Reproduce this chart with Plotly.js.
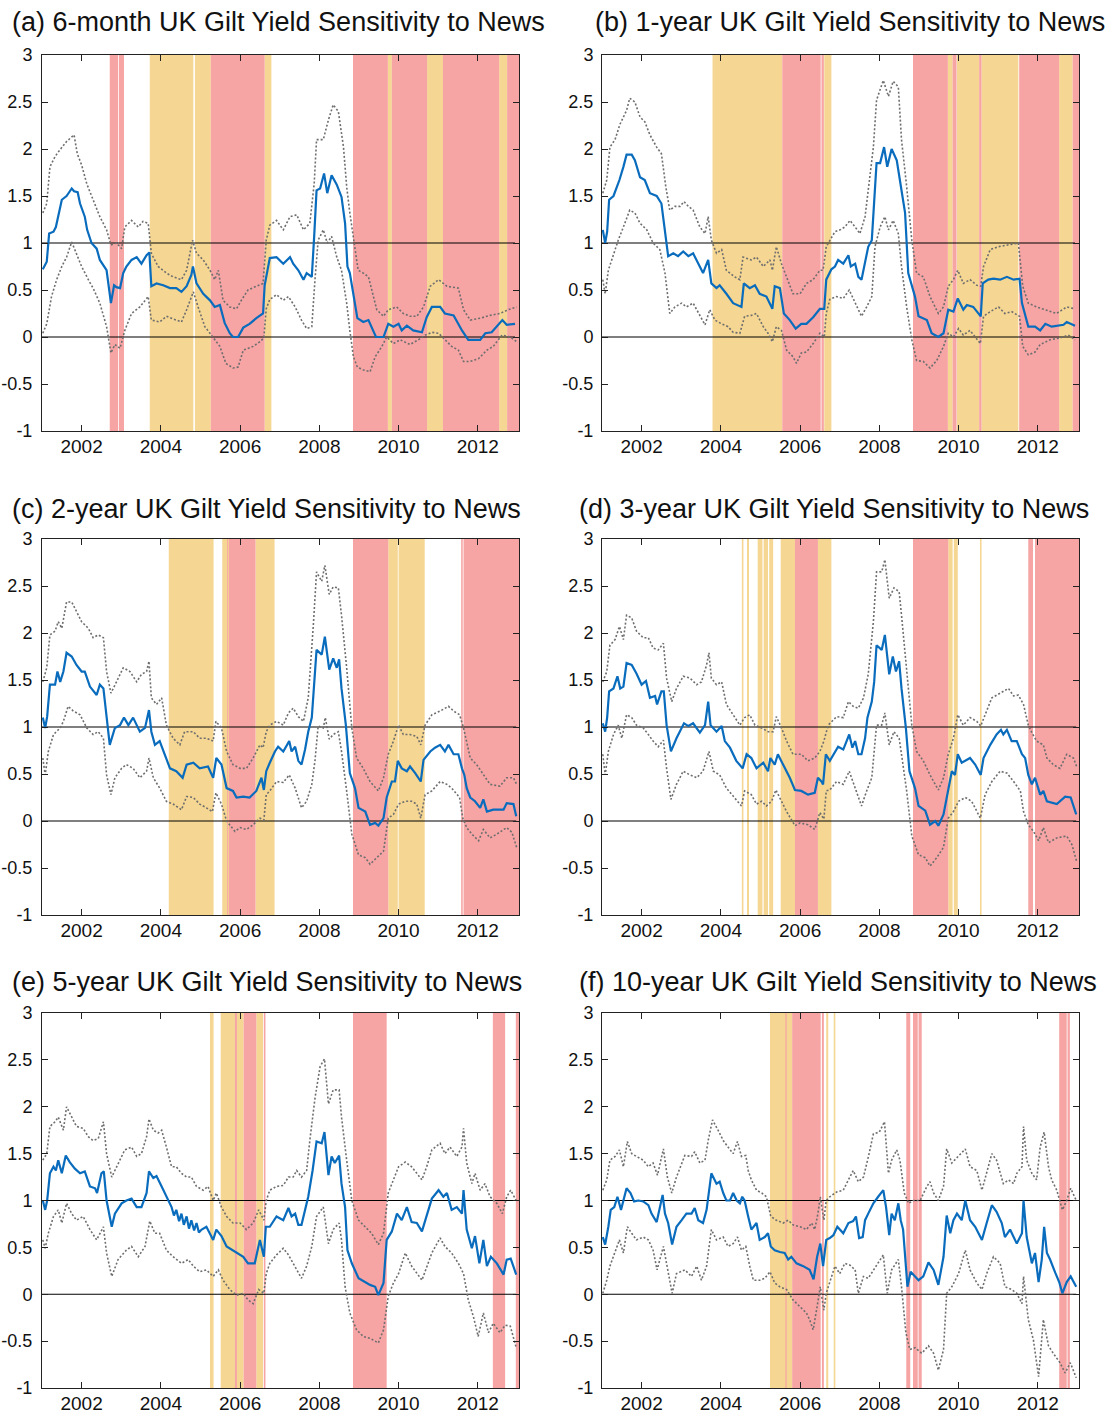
<!DOCTYPE html>
<html><head><meta charset="utf-8">
<script src="https://cdn.plot.ly/plotly-3.0.1.min.js"></script>
<style>html,body{margin:0;padding:0;background:#fff}#chart{width:1110px;height:1415px}</style>
</head><body><div id="chart"></div>
<script>
// ---------------- DATA (years, sensitivity) ----------------
const titles = [
  '(a) 6-month UK Gilt Yield Sensitivity to News',
  '(b) 1-year UK Gilt Yield Sensitivity to News',
  '(c) 2-year UK Gilt Yield Sensitivity to News',
  '(d) 3-year UK Gilt Yield Sensitivity to News',
  '(e) 5-year UK Gilt Yield Sensitivity to News',
  '(f) 10-year UK Gilt Yield Sensitivity to News'
];
const xTickVals = [2002, 2004, 2006, 2008, 2010, 2012];
const xTickText = ['2002', '2004', '2006', '2008', '2010', '2012'];
const yTickVals = [-1, -0.5, 0, 0.5, 1, 1.5, 2, 2.5, 3];
const yTickText = ['-1', '-0.5', '0', '0.5', '1', '1.5', '2', '2.5', '3'];
const refLevels = [0, 1];

// (a) 6-month
const aBlueT = [2001.02,2001.12,2001.18,2001.29,2001.35,2001.44,2001.5,2001.62,2001.75,2001.81,2001.9,2001.96,2002.08,2002.14,2002.25,2002.38,2002.46,2002.63,2002.74,2002.82,2002.88,2002.97,2003.05,2003.13,2003.26,2003.39,2003.51,2003.64,2003.71,2003.76,2003.89,2004.06,2004.23,2004.39,2004.52,2004.65,2004.77,2004.81,2004.9,2005.07,2005.24,2005.36,2005.49,2005.61,2005.74,2005.82,2005.95,2006.08,2006.24,2006.41,2006.58,2006.62,2006.75,2006.92,2007.09,2007.26,2007.34,2007.47,2007.6,2007.68,2007.81,2007.87,2007.93,2008.02,2008.12,2008.2,2008.31,2008.44,2008.56,2008.65,2008.71,2008.77,2008.86,2008.96,2009.11,2009.24,2009.43,2009.62,2009.74,2009.87,2010.0,2010.08,2010.21,2010.37,2010.59,2010.71,2010.84,2011.05,2011.17,2011.39,2011.6,2011.76,2012.06,2012.19,2012.35,2012.48,2012.62,2012.73,2012.94];
const aBlueV = [0.72,0.8,1.1,1.12,1.17,1.35,1.46,1.5,1.58,1.55,1.54,1.42,1.28,1.14,1.0,0.94,0.82,0.71,0.36,0.55,0.53,0.52,0.68,0.75,0.82,0.85,0.78,0.87,0.9,0.54,0.57,0.55,0.52,0.52,0.48,0.54,0.66,0.75,0.57,0.46,0.39,0.32,0.34,0.15,0.04,0.0,0.0,0.1,0.14,0.2,0.25,0.55,0.84,0.85,0.78,0.85,0.78,0.71,0.61,0.68,0.64,1.07,1.56,1.58,1.74,1.53,1.72,1.62,1.49,1.21,0.75,0.68,0.43,0.2,0.16,0.18,0.0,0.0,0.14,0.11,0.14,0.07,0.12,0.07,0.05,0.21,0.32,0.32,0.25,0.23,0.07,-0.03,-0.03,0.04,0.05,0.11,0.18,0.13,0.14];
const aUpT = [2001.02,2001.12,2001.2,2001.33,2001.45,2001.62,2001.81,2001.89,2002.0,2002.13,2002.29,2002.46,2002.63,2002.74,2002.88,2003.01,2003.09,2003.26,2003.43,2003.55,2003.68,2003.76,2003.93,2004.14,2004.31,2004.52,2004.65,2004.8,2004.9,2005.07,2005.24,2005.36,2005.45,2005.57,2005.74,2005.91,2006.03,2006.2,2006.41,2006.58,2006.66,2006.75,2006.92,2007.09,2007.26,2007.43,2007.6,2007.76,2007.87,2007.93,2008.1,2008.23,2008.35,2008.48,2008.61,2008.69,2008.77,2008.9,2008.98,2009.11,2009.24,2009.45,2009.62,2009.74,2009.95,2010.12,2010.29,2010.46,2010.63,2010.8,2011.01,2011.22,2011.51,2011.64,2011.81,2012.06,2012.31,2012.56,2012.77,2012.98];
const aUpV = [1.32,1.42,1.81,1.92,1.99,2.08,2.15,1.95,1.83,1.63,1.46,1.28,1.14,0.98,1.0,0.94,1.17,1.24,1.17,1.23,1.21,0.89,0.75,0.68,0.64,0.61,0.71,1.03,0.89,0.82,0.71,0.61,0.71,0.39,0.32,0.3,0.39,0.5,0.54,0.57,1.03,1.19,1.24,1.14,1.28,1.3,1.14,1.21,1.63,2.1,2.1,2.31,2.47,2.4,2.02,1.6,1.32,0.96,0.71,0.68,0.64,0.29,0.22,0.29,0.32,0.25,0.22,0.22,0.32,0.54,0.61,0.54,0.52,0.29,0.18,0.2,0.23,0.25,0.29,0.32];
const aLoT = [2001.02,2001.12,2001.24,2001.37,2001.5,2001.62,2001.75,2001.87,2002.0,2002.17,2002.29,2002.46,2002.63,2002.74,2002.84,2002.97,2003.09,2003.26,2003.47,2003.68,2003.76,2003.97,2004.14,2004.39,2004.52,2004.65,2004.82,2004.94,2005.11,2005.24,2005.36,2005.49,2005.64,2005.82,2005.95,2006.08,2006.33,2006.5,2006.6,2006.66,2006.75,2006.92,2007.09,2007.22,2007.39,2007.55,2007.68,2007.81,2007.89,2007.97,2008.1,2008.2,2008.31,2008.44,2008.56,2008.69,2008.77,2008.86,2008.96,2009.11,2009.28,2009.41,2009.58,2009.7,2009.87,2010.04,2010.29,2010.5,2010.67,2010.84,2011.01,2011.17,2011.34,2011.51,2011.64,2011.81,2012.02,2012.23,2012.39,2012.61,2012.82,2012.98];
const aLoV = [0.04,0.14,0.43,0.61,0.75,0.85,1.01,0.89,0.75,0.61,0.52,0.36,0.11,-0.17,-0.08,-0.12,0.07,0.25,0.32,0.43,0.18,0.16,0.22,0.18,0.16,0.29,0.48,0.32,0.11,0.04,-0.03,-0.1,-0.28,-0.33,-0.32,-0.14,-0.1,-0.05,-0.01,0.3,0.4,0.45,0.39,0.43,0.32,0.18,0.09,0.11,0.61,1.03,1.14,1.0,1.07,0.85,0.71,0.36,0.07,-0.21,-0.32,-0.35,-0.37,-0.21,-0.1,0.0,-0.07,-0.03,-0.08,-0.03,0.02,0.05,0.04,-0.03,-0.1,-0.14,-0.26,-0.26,-0.23,-0.14,-0.1,0.02,0.0,-0.05];
const aRed = [[2002.71,2002.92],[2002.94,2003.07],[2005.26,2006.62],[2008.85,2009.73],[2009.83,2010.72],[2011.12,2012.54],[2012.74,2013.04]];
const aYellow = [[2003.72,2004.82],[2004.86,2005.26],[2006.62,2006.79],[2009.73,2009.83],[2010.72,2011.12],[2012.54,2012.74]];

// (b) 1-year
const bBlueT = [2001.02,2001.08,2001.13,2001.18,2001.29,2001.37,2001.44,2001.54,2001.62,2001.75,2001.83,2001.96,2002.08,2002.21,2002.38,2002.5,2002.61,2002.67,2002.8,2002.92,2003.05,2003.18,2003.3,2003.43,2003.55,2003.68,2003.76,2003.89,2003.97,2004.14,2004.31,2004.52,2004.58,2004.73,2004.86,2004.98,2005.15,2005.3,2005.36,2005.49,2005.59,2005.74,2005.89,2006.03,2006.16,2006.33,2006.5,2006.61,2006.66,2006.79,2006.88,2006.96,2007.09,2007.22,2007.28,2007.39,2007.47,2007.55,2007.64,2007.72,2007.81,2007.87,2007.93,2008.02,2008.12,2008.2,2008.31,2008.44,2008.54,2008.65,2008.73,2008.82,2008.9,2008.99,2009.2,2009.32,2009.49,2009.62,2009.74,2009.87,2009.98,2010.12,2010.21,2010.37,2010.56,2010.61,2010.75,2010.88,2011.05,2011.22,2011.39,2011.54,2011.6,2011.76,2011.93,2012.06,2012.19,2012.35,2012.65,2012.73,2012.94];
const bBlueV = [1.14,1.0,1.12,1.46,1.5,1.58,1.67,1.81,1.94,1.94,1.88,1.7,1.67,1.53,1.5,1.42,1.07,0.86,0.89,0.86,0.91,0.86,0.89,0.78,0.68,0.82,0.57,0.52,0.55,0.46,0.36,0.32,0.57,0.52,0.55,0.46,0.43,0.3,0.54,0.52,0.25,0.18,0.09,0.14,0.14,0.21,0.3,0.3,0.61,0.72,0.75,0.82,0.78,0.87,0.75,0.78,0.64,0.61,0.8,0.96,1.03,1.4,1.85,1.85,2.02,1.81,2.0,1.88,1.6,1.32,0.68,0.54,0.43,0.22,0.18,0.04,0.0,0.04,0.29,0.27,0.41,0.29,0.34,0.32,0.22,0.57,0.61,0.62,0.61,0.64,0.61,0.62,0.36,0.11,0.11,0.07,0.14,0.11,0.13,0.16,0.12];
const bUpT = [2001.02,2001.12,2001.2,2001.33,2001.45,2001.62,2001.7,2001.83,2001.96,2002.08,2002.21,2002.38,2002.5,2002.61,2002.71,2002.84,2002.97,2003.07,2003.18,2003.3,2003.47,2003.6,2003.68,2003.76,2003.89,2004.02,2004.14,2004.35,2004.48,2004.56,2004.77,2004.9,2005.07,2005.24,2005.3,2005.4,2005.53,2005.66,2005.82,2006.0,2006.16,2006.33,2006.5,2006.58,2006.66,2006.88,2007.01,2007.13,2007.26,2007.39,2007.51,2007.64,2007.76,2007.85,2007.93,2008.1,2008.23,2008.35,2008.48,2008.56,2008.69,2008.82,2008.94,2009.11,2009.28,2009.49,2009.62,2009.74,2009.87,2009.98,2010.12,2010.29,2010.46,2010.56,2010.63,2010.8,2011.0,2011.26,2011.51,2011.62,2011.76,2011.97,2012.18,2012.47,2012.73,2012.94];
const bUpV = [1.53,1.67,2.02,2.1,2.26,2.41,2.54,2.5,2.34,2.29,2.15,2.02,1.95,1.6,1.35,1.39,1.39,1.44,1.39,1.35,1.17,1.1,1.28,1.03,0.89,0.93,0.71,0.64,0.61,0.85,0.82,0.85,0.75,0.82,0.71,0.96,0.78,0.64,0.46,0.46,0.57,0.61,0.71,0.71,0.96,1.12,1.14,1.17,1.24,1.17,1.1,1.28,1.67,2.02,2.52,2.73,2.56,2.72,2.66,2.1,1.6,1.03,0.68,0.64,0.43,0.25,0.32,0.54,0.61,0.71,0.57,0.61,0.55,0.54,0.75,0.93,0.96,0.98,1.0,0.54,0.36,0.32,0.29,0.25,0.32,0.3];
const bLoT = [2001.02,2001.08,2001.16,2001.29,2001.41,2001.54,2001.7,2001.83,2001.96,2002.13,2002.29,2002.46,2002.59,2002.71,2002.84,2003.01,2003.13,2003.3,2003.47,2003.6,2003.72,2003.85,2004.02,2004.18,2004.31,2004.48,2004.6,2004.77,2004.9,2005.07,2005.19,2005.3,2005.4,2005.53,2005.66,2005.82,2005.91,2006.03,2006.16,2006.33,2006.5,2006.61,2006.66,2006.75,2006.92,2007.09,2007.24,2007.39,2007.55,2007.68,2007.81,2007.89,2008.02,2008.14,2008.23,2008.35,2008.48,2008.56,2008.69,2008.82,2008.94,2009.11,2009.28,2009.45,2009.62,2009.74,2009.87,2010.0,2010.12,2010.29,2010.55,2010.63,2010.8,2011.01,2011.17,2011.34,2011.54,2011.62,2011.76,2011.93,2012.06,2012.31,2012.56,2012.77,2012.94];
const bLoV = [0.61,0.46,0.71,0.89,1.03,1.17,1.35,1.32,1.21,1.14,1.0,0.93,0.68,0.25,0.32,0.36,0.32,0.36,0.22,0.13,0.29,0.18,0.14,0.11,0.05,0.04,0.22,0.23,0.25,0.11,0.04,-0.05,0.11,0.07,-0.14,-0.21,-0.28,-0.17,-0.16,-0.07,0.04,0.0,0.25,0.4,0.43,0.41,0.5,0.36,0.22,0.32,0.43,0.96,1.17,1.28,1.14,1.24,1.1,0.75,0.32,-0.03,-0.25,-0.26,-0.33,-0.25,-0.1,0.04,0.0,0.09,0.02,0.07,-0.07,0.22,0.27,0.32,0.25,0.27,0.22,-0.1,-0.19,-0.16,-0.08,-0.03,-0.01,0.02,-0.03];
const bRed = [[2005.55,2006.52],[2006.54,2006.6],[2008.85,2009.73],[2009.85,2009.95],[2010.52,2010.58],[2011.53,2012.54],[2012.88,2013.04]];
const bYellow = [[2003.79,2005.55],[2006.61,2006.79],[2009.73,2009.85],[2009.96,2010.52],[2010.58,2011.51],[2012.54,2012.88]];

// (c) 2-year
const cBlueT = [2001.02,2001.08,2001.13,2001.2,2001.33,2001.39,2001.46,2001.54,2001.62,2001.75,2001.87,2002.0,2002.08,2002.21,2002.38,2002.46,2002.55,2002.63,2002.71,2002.84,2002.97,2003.07,2003.18,2003.3,2003.47,2003.6,2003.7,2003.76,2003.85,2003.97,2004.1,2004.23,2004.39,2004.55,2004.65,2004.82,2004.98,2005.19,2005.32,2005.4,2005.53,2005.66,2005.82,2005.91,2006.08,2006.24,2006.41,2006.54,2006.6,2006.66,2006.75,2006.88,2006.96,2007.09,2007.24,2007.3,2007.39,2007.47,2007.55,2007.64,2007.72,2007.81,2007.93,2008.06,2008.14,2008.25,2008.35,2008.44,2008.5,2008.56,2008.67,2008.77,2008.9,2008.99,2009.16,2009.28,2009.41,2009.49,2009.62,2009.7,2009.83,2009.91,2009.98,2010.08,2010.21,2010.29,2010.42,2010.56,2010.63,2010.8,2010.92,2011.05,2011.17,2011.26,2011.39,2011.51,2011.6,2011.66,2011.72,2011.81,2011.93,2012.06,2012.14,2012.23,2012.39,2012.65,2012.73,2012.9,2012.97];
const cBlueV = [1.1,0.99,1.11,1.45,1.45,1.59,1.48,1.59,1.79,1.75,1.66,1.59,1.59,1.43,1.34,1.45,1.41,1.1,0.81,0.99,1.02,1.1,1.02,1.1,0.95,0.99,1.18,0.95,0.81,0.85,0.71,0.56,0.53,0.46,0.6,0.62,0.56,0.58,0.46,0.67,0.6,0.35,0.32,0.25,0.26,0.25,0.32,0.46,0.33,0.53,0.62,0.74,0.79,0.74,0.85,0.74,0.79,0.64,0.6,0.76,0.95,1.1,1.82,1.77,1.96,1.61,1.73,1.63,1.72,1.41,1.02,0.51,0.35,0.14,0.1,-0.04,-0.02,-0.05,0.03,0.25,0.42,0.42,0.64,0.56,0.53,0.58,0.51,0.42,0.65,0.74,0.78,0.81,0.74,0.81,0.71,0.71,0.56,0.49,0.35,0.25,0.21,0.14,0.23,0.1,0.12,0.12,0.19,0.18,0.05];
const cUpT = [2001.02,2001.12,2001.2,2001.33,2001.41,2001.5,2001.62,2001.75,2001.87,2002.0,2002.17,2002.29,2002.42,2002.55,2002.63,2002.74,2002.88,2003.05,2003.22,2003.39,2003.51,2003.64,2003.7,2003.76,2003.89,2004.02,2004.14,2004.31,2004.48,2004.6,2004.82,2004.98,2005.15,2005.32,2005.39,2005.53,2005.66,2005.82,2006.0,2006.16,2006.33,2006.5,2006.58,2006.66,2006.75,2006.92,2007.09,2007.22,2007.34,2007.47,2007.6,2007.72,2007.85,2007.93,2008.06,2008.14,2008.25,2008.35,2008.48,2008.56,2008.69,2008.82,2008.94,2009.11,2009.28,2009.49,2009.62,2009.74,2009.87,2010.0,2010.12,2010.29,2010.46,2010.56,2010.67,2010.84,2011.05,2011.26,2011.39,2011.54,2011.64,2011.81,2011.97,2012.14,2012.31,2012.56,2012.73,2012.9,2012.98];
const cUpV = [1.48,1.63,1.98,2.02,2.12,2.05,2.33,2.33,2.23,2.12,2.05,1.95,1.98,1.95,1.59,1.36,1.48,1.63,1.59,1.48,1.56,1.59,1.7,1.31,1.24,1.31,1.02,0.88,0.81,0.95,0.95,0.88,0.88,0.85,1.06,0.99,0.74,0.6,0.56,0.56,0.67,0.81,0.78,0.95,1.02,1.06,1.02,1.15,1.2,1.11,1.06,1.31,2.09,2.65,2.55,2.72,2.41,2.49,2.48,2.19,1.63,0.99,0.67,0.56,0.42,0.32,0.46,0.71,0.85,1.02,0.92,0.92,0.9,0.81,1.02,1.13,1.17,1.22,1.17,1.13,0.99,0.67,0.6,0.49,0.39,0.37,0.46,0.46,0.39];
const cLoT = [2001.02,2001.08,2001.16,2001.29,2001.46,2001.54,2001.66,2001.79,2001.96,2002.13,2002.29,2002.42,2002.55,2002.63,2002.74,2002.84,2003.01,2003.13,2003.3,2003.47,2003.64,2003.7,2003.81,2003.97,2004.14,2004.31,2004.52,2004.65,2004.82,2004.98,2005.15,2005.3,2005.39,2005.53,2005.66,2005.87,2006.0,2006.16,2006.33,2006.5,2006.6,2006.66,2006.75,2006.92,2007.09,2007.24,2007.39,2007.55,2007.68,2007.81,2007.89,2007.97,2008.1,2008.15,2008.25,2008.35,2008.48,2008.56,2008.69,2008.82,2008.99,2009.16,2009.28,2009.45,2009.62,2009.74,2009.87,2010.0,2010.17,2010.33,2010.46,2010.56,2010.67,2010.84,2011.05,2011.22,2011.34,2011.54,2011.62,2011.72,2011.85,2012.02,2012.14,2012.31,2012.48,2012.73,2012.86,2012.98];
const cLoV = [0.67,0.49,0.74,0.92,0.99,1.06,1.22,1.17,1.13,0.99,0.92,0.95,0.88,0.49,0.28,0.46,0.56,0.6,0.56,0.46,0.53,0.67,0.46,0.35,0.21,0.18,0.12,0.26,0.25,0.18,0.14,0.1,0.3,0.18,0.0,-0.11,-0.07,-0.09,-0.04,0.03,0.01,0.28,0.32,0.42,0.41,0.49,0.35,0.14,0.21,0.39,0.64,1.01,0.99,1.1,0.87,0.92,0.95,0.74,0.32,-0.14,-0.36,-0.39,-0.46,-0.39,-0.32,0.03,0.07,0.18,0.21,0.21,0.18,0.03,0.28,0.32,0.42,0.39,0.35,0.25,0.03,-0.07,-0.14,-0.21,-0.09,-0.18,-0.14,-0.07,-0.12,-0.28];
const cRed = [[2005.72,2006.39],[2008.85,2009.74],[2011.58,2011.62],[2011.64,2013.04],[2005.675,2005.70]];
const cYellow = [[2004.2,2005.33],[2005.55,2005.72],[2006.39,2006.87],[2009.74,2009.98],[2010.0,2010.66]];

// (d) 3-year
const dBlueT = [2001.02,2001.08,2001.13,2001.18,2001.29,2001.39,2001.46,2001.54,2001.62,2001.75,2001.87,2002.0,2002.11,2002.21,2002.34,2002.39,2002.5,2002.56,2002.63,2002.74,2002.88,2003.07,2003.18,2003.3,2003.47,2003.6,2003.68,2003.74,2003.89,2004.02,2004.1,2004.23,2004.39,2004.55,2004.65,2004.77,2004.9,2005.07,2005.19,2005.25,2005.36,2005.44,2005.57,2005.66,2005.74,2005.87,2006.03,2006.2,2006.37,2006.45,2006.54,2006.58,2006.65,2006.75,2006.88,2006.96,2007.09,2007.24,2007.32,2007.39,2007.47,2007.55,2007.64,2007.7,2007.81,2007.87,2007.93,2008.06,2008.14,2008.25,2008.34,2008.42,2008.5,2008.56,2008.67,2008.76,2008.9,2008.99,2009.16,2009.28,2009.41,2009.49,2009.62,2009.7,2009.83,2009.91,2009.98,2010.08,2010.21,2010.29,2010.42,2010.56,2010.63,2010.8,2010.96,2011.07,2011.13,2011.22,2011.34,2011.47,2011.6,2011.68,2011.76,2011.85,2011.93,2012.06,2012.14,2012.23,2012.48,2012.69,2012.83,2012.97];
const dBlueV = [1.04,0.95,1.1,1.38,1.41,1.54,1.41,1.43,1.68,1.66,1.57,1.45,1.49,1.31,1.33,1.24,1.38,1.38,1.02,0.74,0.88,1.04,1.01,1.04,0.94,1.02,1.27,1.02,0.95,1.01,0.85,0.78,0.64,0.56,0.71,0.67,0.56,0.62,0.53,0.67,0.6,0.71,0.6,0.53,0.46,0.33,0.32,0.28,0.3,0.46,0.42,0.39,0.71,0.64,0.74,0.79,0.76,0.92,0.78,0.85,0.71,0.71,0.88,1.1,1.27,1.48,1.87,1.82,1.98,1.56,1.75,1.59,1.7,1.41,0.99,0.53,0.35,0.16,0.11,-0.04,0.0,-0.05,0.07,0.25,0.53,0.49,0.71,0.62,0.65,0.67,0.6,0.49,0.67,0.81,0.92,0.97,0.92,0.97,0.85,0.85,0.71,0.67,0.49,0.39,0.46,0.28,0.32,0.21,0.18,0.26,0.25,0.07];
const dUpT = [2001.02,2001.12,2001.2,2001.33,2001.44,2001.54,2001.62,2001.75,2001.87,2002.04,2002.17,2002.29,2002.42,2002.55,2002.63,2002.76,2002.88,2003.05,2003.22,2003.39,2003.51,2003.64,2003.7,2003.76,2003.89,2004.02,2004.14,2004.31,2004.48,2004.6,2004.73,2004.86,2005.03,2005.19,2005.32,2005.4,2005.53,2005.66,2005.82,2006.03,2006.2,2006.37,2006.5,2006.6,2006.71,2006.92,2007.09,2007.22,2007.34,2007.47,2007.6,2007.72,2007.85,2007.93,2008.06,2008.14,2008.25,2008.37,2008.5,2008.56,2008.69,2008.82,2008.94,2009.11,2009.28,2009.49,2009.62,2009.74,2009.87,2009.98,2010.12,2010.29,2010.46,2010.56,2010.67,2010.84,2011.05,2011.26,2011.39,2011.51,2011.64,2011.76,2011.85,2011.97,2012.14,2012.23,2012.39,2012.56,2012.73,2012.9,2012.98];
const dUpV = [1.48,1.59,1.87,1.93,2.07,1.93,2.19,2.16,2.02,1.95,1.95,1.84,1.82,1.89,1.52,1.27,1.41,1.54,1.52,1.45,1.48,1.66,1.79,1.52,1.45,1.48,1.24,1.13,1.02,1.1,1.13,1.02,0.99,0.95,0.95,1.11,0.99,0.85,0.71,0.71,0.64,0.67,0.74,0.85,1.02,1.11,1.1,1.27,1.22,1.2,1.31,1.56,2.12,2.65,2.65,2.78,2.37,2.48,2.44,2.19,1.59,1.02,0.74,0.64,0.49,0.33,0.46,0.71,0.88,1.13,1.02,1.1,1.06,1.01,1.13,1.31,1.36,1.41,1.33,1.34,1.24,1.02,0.94,0.85,0.81,0.67,0.6,0.56,0.71,0.67,0.58];
const dLoT = [2001.02,2001.08,2001.16,2001.29,2001.41,2001.5,2001.62,2001.75,2001.87,2002.04,2002.17,2002.29,2002.42,2002.55,2002.63,2002.74,2002.88,2003.05,2003.22,2003.39,2003.55,2003.7,2003.81,2003.97,2004.14,2004.31,2004.52,2004.6,2004.77,2004.9,2005.03,2005.15,2005.28,2005.39,2005.53,2005.66,2005.87,2006.0,2006.2,2006.37,2006.5,2006.6,2006.66,2006.75,2006.92,2007.09,2007.24,2007.39,2007.55,2007.68,2007.81,2007.93,2008.06,2008.14,2008.25,2008.37,2008.5,2008.56,2008.69,2008.82,2008.99,2009.16,2009.28,2009.45,2009.62,2009.74,2009.87,2010.0,2010.17,2010.33,2010.55,2010.67,2010.84,2011.05,2011.22,2011.39,2011.56,2011.64,2011.76,2011.89,2012.02,2012.14,2012.27,2012.48,2012.73,2012.86,2012.98];
const dLoV = [0.71,0.49,0.74,0.92,1.02,0.88,1.13,1.1,1.02,0.99,0.92,0.85,0.79,0.86,0.56,0.23,0.39,0.53,0.49,0.46,0.53,0.74,0.53,0.49,0.35,0.26,0.16,0.32,0.28,0.18,0.21,0.16,0.21,0.33,0.21,0.1,-0.05,-0.02,-0.04,-0.09,0.09,0.02,0.32,0.33,0.42,0.39,0.53,0.35,0.16,0.32,0.46,1.02,1.02,1.15,0.81,0.95,0.88,0.71,0.32,-0.16,-0.36,-0.39,-0.48,-0.39,-0.28,0.03,0.1,0.21,0.25,0.21,0.03,0.28,0.42,0.53,0.51,0.42,0.32,0.1,-0.04,-0.11,-0.21,-0.07,-0.23,-0.18,-0.16,-0.25,-0.43];
const dRed = [[2005.87,2006.45],[2008.85,2009.74],[2011.76,2011.88],[2011.93,2013.04]];
const dYellow = [[2004.53,2004.57],[2004.66,2004.71],[2004.93,2005.05],[2005.08,2005.19],[2005.22,2005.32],[2005.51,2005.87],[2006.45,2006.79],[2009.74,2009.85],[2009.88,2009.98],[2010.54,2010.58]];

// (e) 5-year
const eBlueT = [2001.02,2001.08,2001.13,2001.2,2001.29,2001.35,2001.41,2001.5,2001.6,2001.7,2001.83,2001.96,2002.08,2002.21,2002.34,2002.39,2002.5,2002.56,2002.63,2002.76,2002.84,2003.01,2003.13,2003.26,2003.39,2003.51,2003.64,2003.7,2003.81,2003.89,2004.02,2004.14,2004.27,2004.33,2004.39,2004.46,2004.52,2004.58,2004.65,2004.71,2004.77,2004.84,2004.9,2004.96,2005.03,2005.15,2005.24,2005.32,2005.4,2005.53,2005.66,2005.82,2005.91,2006.08,2006.2,2006.37,2006.5,2006.6,2006.65,2006.75,2006.92,2007.09,2007.22,2007.3,2007.39,2007.47,2007.55,2007.64,2007.72,2007.83,2007.93,2008.06,2008.13,2008.23,2008.31,2008.39,2008.5,2008.56,2008.65,2008.71,2008.82,2008.99,2009.16,2009.28,2009.41,2009.49,2009.62,2009.7,2009.83,2009.96,2010.08,2010.21,2010.33,2010.46,2010.59,2010.71,2010.84,2011.01,2011.13,2011.22,2011.34,2011.47,2011.6,2011.64,2011.72,2011.85,2011.93,2012.04,2012.14,2012.23,2012.33,2012.48,2012.65,2012.73,2012.83,2012.97];
const eBlueV = [1.0,0.9,1.0,1.29,1.36,1.32,1.43,1.29,1.48,1.41,1.34,1.29,1.31,1.15,1.13,1.08,1.29,1.31,1.0,0.72,0.86,0.97,1.0,1.02,0.93,0.93,1.08,1.31,1.24,1.26,1.15,1.04,0.93,0.84,0.9,0.78,0.86,0.74,0.83,0.7,0.79,0.68,0.76,0.66,0.69,0.72,0.65,0.58,0.69,0.62,0.51,0.47,0.44,0.4,0.33,0.33,0.58,0.4,0.72,0.72,0.83,0.79,0.92,0.83,0.86,0.74,0.74,0.9,1.04,1.32,1.63,1.61,1.73,1.27,1.47,1.4,1.48,1.18,0.93,0.47,0.33,0.17,0.13,0.1,0.08,-0.01,0.12,0.58,0.67,0.86,0.79,0.93,0.77,0.76,0.67,0.83,1.02,1.11,1.04,1.08,0.9,0.93,0.86,1.11,0.69,0.49,0.62,0.33,0.58,0.3,0.4,0.33,0.21,0.37,0.38,0.21];
const eUpT = [2001.02,2001.12,2001.2,2001.33,2001.41,2001.54,2001.62,2001.75,2001.87,2002.04,2002.17,2002.29,2002.42,2002.55,2002.63,2002.76,2002.92,2003.09,2003.26,2003.39,2003.51,2003.64,2003.7,2003.81,2003.93,2004.02,2004.14,2004.27,2004.39,2004.52,2004.65,2004.77,2004.9,2005.07,2005.19,2005.32,2005.4,2005.53,2005.66,2005.82,2006.0,2006.16,2006.33,2006.47,2006.6,2006.66,2006.75,2006.92,2007.09,2007.22,2007.34,2007.43,2007.55,2007.68,2007.76,2007.89,2008.02,2008.13,2008.23,2008.35,2008.5,2008.56,2008.69,2008.82,2008.99,2009.16,2009.32,2009.49,2009.62,2009.74,2009.87,2010.0,2010.17,2010.33,2010.46,2010.59,2010.71,2010.84,2011.05,2011.17,2011.3,2011.47,2011.6,2011.64,2011.72,2011.85,2011.93,2012.06,2012.18,2012.31,2012.48,2012.62,2012.73,2012.83,2012.97];
const eUpV = [1.43,1.5,1.79,1.84,1.89,1.75,2.0,1.89,1.79,1.77,1.68,1.64,1.66,1.84,1.5,1.25,1.4,1.54,1.57,1.47,1.5,1.68,1.87,1.75,1.72,1.75,1.57,1.36,1.36,1.29,1.25,1.25,1.15,1.11,1.15,1.0,1.08,0.93,0.83,0.76,0.76,0.69,0.76,0.9,0.79,1.0,1.11,1.15,1.16,1.25,1.25,1.32,1.25,1.32,1.64,2.09,2.43,2.51,2.03,2.18,2.18,1.89,1.43,1.0,0.79,0.72,0.65,0.53,0.65,1.08,1.22,1.36,1.41,1.36,1.29,1.22,1.36,1.54,1.61,1.5,1.57,1.47,1.57,1.77,1.4,1.18,1.29,1.11,1.18,1.04,0.97,0.86,1.04,1.11,1.0];
const eLoT = [2001.02,2001.08,2001.16,2001.29,2001.41,2001.5,2001.62,2001.75,2001.87,2002.04,2002.21,2002.38,2002.55,2002.63,2002.76,2002.92,2003.13,2003.26,2003.43,2003.6,2003.72,2003.85,2003.97,2004.14,2004.31,2004.52,2004.69,2004.82,2004.98,2005.15,2005.32,2005.45,2005.57,2005.74,2005.91,2006.08,2006.2,2006.33,2006.47,2006.6,2006.66,2006.75,2006.92,2007.09,2007.22,2007.34,2007.55,2007.68,2007.81,2007.93,2008.1,2008.23,2008.35,2008.5,2008.56,2008.65,2008.77,2008.94,2009.11,2009.28,2009.49,2009.62,2009.74,2009.87,2010.0,2010.17,2010.33,2010.59,2010.71,2010.84,2011.05,2011.17,2011.34,2011.51,2011.64,2011.76,2011.89,2012.01,2012.14,2012.27,2012.39,2012.56,2012.69,2012.82,2012.97];
const eLoV = [0.58,0.49,0.65,0.83,0.9,0.76,0.97,0.86,0.79,0.83,0.69,0.58,0.72,0.44,0.19,0.37,0.47,0.51,0.4,0.51,0.78,0.65,0.65,0.47,0.4,0.33,0.37,0.3,0.24,0.26,0.19,0.26,0.15,0.05,-0.01,0.01,-0.06,-0.1,0.05,0.01,0.22,0.33,0.42,0.49,0.42,0.33,0.17,0.3,0.51,0.83,0.93,0.54,0.69,0.76,0.58,0.08,-0.2,-0.38,-0.45,-0.47,-0.52,-0.38,-0.02,0.12,0.22,0.44,0.3,0.15,0.3,0.44,0.6,0.51,0.44,0.33,0.22,-0.06,-0.24,-0.45,-0.2,-0.41,-0.31,-0.41,-0.33,-0.34,-0.57];
const eRed = [[2005.87,2005.92],[2006.09,2006.41],[2006.6,2006.64],[2008.85,2009.7],[2012.38,2012.69],[2012.96,2013.04]];
const eYellow = [[2005.24,2005.33],[2005.51,2005.87],[2005.92,2006.09],[2006.41,2006.58]];

// (f) 10-year
const fBlueT = [2001.02,2001.08,2001.16,2001.22,2001.31,2001.39,2001.48,2001.54,2001.62,2001.72,2001.81,2001.92,2002.04,2002.17,2002.25,2002.38,2002.46,2002.53,2002.59,2002.67,2002.77,2002.88,2003.01,2003.13,2003.26,2003.34,2003.43,2003.55,2003.64,2003.71,2003.76,2003.89,2003.97,2004.06,2004.14,2004.23,2004.31,2004.4,2004.48,2004.54,2004.6,2004.69,2004.77,2004.9,2004.98,2005.11,2005.19,2005.26,2005.36,2005.49,2005.61,2005.7,2005.78,2005.91,2006.08,2006.24,2006.34,2006.43,2006.51,2006.58,2006.66,2006.75,2006.84,2006.94,2007.09,2007.22,2007.34,2007.41,2007.49,2007.58,2007.64,2007.72,2007.85,2007.97,2008.1,2008.17,2008.25,2008.31,2008.39,2008.48,2008.54,2008.6,2008.71,2008.79,2008.9,2008.99,2009.11,2009.24,2009.37,2009.49,2009.62,2009.7,2009.79,2009.87,2009.96,2010.08,2010.17,2010.29,2010.42,2010.59,2010.71,2010.84,2010.96,2011.09,2011.17,2011.3,2011.39,2011.47,2011.6,2011.64,2011.72,2011.85,2011.93,2012.02,2012.1,2012.16,2012.23,2012.31,2012.44,2012.54,2012.62,2012.73,2012.83,2012.97];
const fBlueV = [0.61,0.53,0.72,0.9,0.93,1.04,0.9,1.0,1.13,1.08,0.99,1.0,0.99,0.95,0.86,0.77,0.93,1.06,0.86,0.76,0.53,0.72,0.79,0.86,0.86,0.92,0.79,0.76,0.9,1.15,1.29,1.18,1.2,1.08,1.0,1.0,1.08,1.0,0.97,1.04,1.0,0.83,0.69,0.76,0.58,0.61,0.65,0.51,0.47,0.45,0.44,0.37,0.4,0.33,0.3,0.26,0.16,0.4,0.54,0.3,0.58,0.6,0.63,0.72,0.65,0.76,0.78,0.83,0.6,0.61,0.79,0.86,0.97,1.04,1.11,0.93,0.63,0.86,0.79,0.97,0.79,0.69,0.08,0.24,0.19,0.15,0.19,0.34,0.26,0.1,0.4,0.84,0.65,0.79,0.86,0.79,1.0,0.79,0.72,0.58,0.76,0.95,0.88,0.76,0.61,0.69,0.61,0.54,0.65,1.0,0.61,0.33,0.44,0.13,0.37,0.72,0.44,0.37,0.23,0.13,0.01,0.13,0.19,0.08];
const fUpT = [2001.02,2001.12,2001.2,2001.33,2001.44,2001.54,2001.64,2001.75,2001.87,2002.04,2002.17,2002.29,2002.4,2002.55,2002.65,2002.76,2002.88,2003.09,2003.26,2003.34,2003.47,2003.6,2003.68,2003.79,2003.93,2004.06,2004.18,2004.31,2004.42,2004.52,2004.63,2004.69,2004.77,2004.9,2005.03,2005.15,2005.26,2005.4,2005.57,2005.7,2005.82,2006.0,2006.16,2006.29,2006.37,2006.45,2006.51,2006.6,2006.66,2006.75,2006.92,2007.09,2007.22,2007.34,2007.47,2007.6,2007.72,2007.85,2008.0,2008.13,2008.23,2008.31,2008.44,2008.52,2008.63,2008.74,2008.86,2009.03,2009.2,2009.28,2009.37,2009.49,2009.62,2009.7,2009.83,2010.0,2010.17,2010.29,2010.46,2010.59,2010.71,2010.84,2010.96,2011.13,2011.26,2011.39,2011.47,2011.6,2011.64,2011.72,2011.85,2011.97,2012.06,2012.16,2012.27,2012.35,2012.48,2012.62,2012.73,2012.83,2012.97];
const fUpV = [1.11,1.22,1.43,1.47,1.54,1.36,1.63,1.5,1.47,1.43,1.36,1.4,1.27,1.55,1.25,1.08,1.25,1.48,1.47,1.52,1.4,1.43,1.64,1.86,1.75,1.64,1.57,1.5,1.63,1.47,1.48,1.32,1.22,1.11,1.08,1.04,0.83,0.79,0.76,0.79,0.74,0.72,0.69,0.76,0.69,0.86,1.04,0.79,1.0,1.04,1.09,1.11,1.22,1.32,1.2,1.25,1.46,1.71,1.73,1.84,1.29,1.43,1.54,1.43,1.08,0.97,1.0,1.0,1.15,1.2,1.08,1.0,1.15,1.55,1.4,1.48,1.55,1.36,1.32,1.11,1.29,1.5,1.43,1.18,1.22,1.18,1.29,1.36,1.79,1.43,1.29,1.22,1.57,1.73,1.36,1.22,1.11,0.9,1.0,1.13,1.0];
const fLoT = [2001.02,2001.12,2001.2,2001.33,2001.44,2001.54,2001.64,2001.75,2001.87,2002.04,2002.17,2002.29,2002.39,2002.55,2002.65,2002.77,2002.88,2003.09,2003.26,2003.39,2003.51,2003.64,2003.76,2003.89,2004.06,2004.18,2004.31,2004.42,2004.52,2004.63,2004.73,2004.82,2004.98,2005.11,2005.24,2005.36,2005.49,2005.66,2005.82,2006.0,2006.16,2006.24,2006.33,2006.43,2006.51,2006.6,2006.66,2006.75,2006.88,2007.0,2007.13,2007.26,2007.39,2007.47,2007.6,2007.72,2007.85,2007.97,2008.1,2008.2,2008.31,2008.48,2008.56,2008.67,2008.77,2008.9,2009.07,2009.24,2009.37,2009.49,2009.62,2009.7,2009.83,2010.0,2010.17,2010.29,2010.46,2010.59,2010.71,2010.88,2011.05,2011.17,2011.34,2011.47,2011.6,2011.64,2011.76,2011.89,2012.02,2012.14,2012.27,2012.39,2012.56,2012.69,2012.82,2012.97];
const fLoV = [0.01,0.15,0.3,0.44,0.58,0.44,0.72,0.65,0.58,0.61,0.58,0.47,0.26,0.51,0.3,0.01,0.22,0.26,0.19,0.3,0.15,0.3,0.69,0.58,0.61,0.51,0.54,0.61,0.47,0.51,0.3,0.15,0.15,0.17,0.24,0.12,0.08,0.05,-0.06,-0.13,-0.2,-0.27,-0.38,-0.13,0.08,-0.17,0.01,0.13,0.3,0.22,0.33,0.31,0.26,0.01,0.19,0.17,0.26,0.33,0.42,0.01,0.26,0.37,0.08,-0.41,-0.59,-0.57,-0.63,-0.55,-0.63,-0.81,-0.59,0.01,0.08,0.22,0.47,0.26,0.12,0.05,0.22,0.4,0.33,0.08,0.05,0.01,-0.1,0.19,-0.27,-0.49,-0.88,-0.27,-0.55,-0.63,-0.73,-0.84,-0.73,-0.89];
const fRed = [[2005.8,2006.52],[2006.55,2006.6],[2008.68,2008.78],[2008.85,2008.97],[2008.99,2009.07],[2012.54,2012.73],[2012.75,2012.81],[2005.63,2005.66]];
const fYellow = [[2005.24,2005.8],[2006.66,2006.71],[2006.85,2006.89]];

// ---------------- STYLE / LAYOUT ----------------
const W = 1110, H = 1415;
const RED = 'rgb(246,164,164)', YEL = 'rgb(245,214,146)';
const BLUE = 'rgb(10,108,189)', GREY = 'rgb(110,110,110)';
const FONT = 'Liberation Sans, Arial, Helvetica, sans-serif';
const xRange = [2001.0, 2013.04];
const colPx = [[42, 519], [602, 1079]];
const rowPx = [[55, 431], [539, 915], [1013, 1388]];
const titlePos = [[10, 22], [593, 22], [10, 509], [577, 509], [10, 982], [577, 982]];

const panels = [
  {b: [aBlueT, aBlueV], u: [aUpT, aUpV], l: [aLoT, aLoV], red: aRed, yel: aYellow},
  {b: [bBlueT, bBlueV], u: [bUpT, bUpV], l: [bLoT, bLoV], red: bRed, yel: bYellow},
  {b: [cBlueT, cBlueV], u: [cUpT, cUpV], l: [cLoT, cLoV], red: cRed, yel: cYellow},
  {b: [dBlueT, dBlueV], u: [dUpT, dUpV], l: [dLoT, dLoV], red: dRed, yel: dYellow},
  {b: [eBlueT, eBlueV], u: [eUpT, eUpV], l: [eLoT, eLoV], red: eRed, yel: eYellow},
  {b: [fBlueT, fBlueV], u: [fUpT, fUpV], l: [fLoT, fLoV], red: fRed, yel: fYellow}
];

const traces = [], shapes = [], annotations = [];
const layout = {
  width: W, height: H, margin: {l: 0, r: 0, t: 0, b: 0},
  paper_bgcolor: '#fff', plot_bgcolor: 'rgba(0,0,0,0)', showlegend: false,
  font: {family: FONT, color: '#111'}
};

panels.forEach((p, i) => {
  const n = i + 1, col = i % 2, row = Math.floor(i / 2);
  const xa = 'x' + (n === 1 ? '' : n), ya = 'y' + (n === 1 ? '' : n);
  const axCommon = {
    showline: true, linecolor: '#222', linewidth: 1, mirror: 'ticks',
    ticks: 'inside', ticklen: 6, tickwidth: 1, tickcolor: '#222',
    showgrid: false, zeroline: false, fixedrange: true
  };
  layout['xaxis' + (n === 1 ? '' : n)] = Object.assign({}, axCommon, {
    domain: [colPx[col][0] / W, colPx[col][1] / W], anchor: ya,
    range: xRange, tickmode: 'array', tickvals: xTickVals, ticktext: xTickText,
    ticklabelstandoff: -2, tickfont: {family: FONT, size: 19, color: '#111'}
  });
  layout['yaxis' + (n === 1 ? '' : n)] = Object.assign({}, axCommon, {
    domain: [1 - rowPx[row][1] / H, 1 - rowPx[row][0] / H], anchor: xa,
    range: [-1, 3], tickmode: 'array', tickvals: yTickVals, ticktext: yTickText,
    ticklabelstandoff: col === 0 ? 5 : 4, tickfont: {family: FONT, size: 18, color: '#111'}
  });
  // shaded regimes
  p.yel.forEach(iv => shapes.push({type: 'rect', xref: xa, yref: ya + ' domain', x0: iv[0], x1: iv[1], y0: 0, y1: 1,
    fillcolor: YEL, line: {width: 0}, layer: 'below'}));
  p.red.forEach(iv => shapes.push({type: 'rect', xref: xa, yref: ya + ' domain', x0: iv[0], x1: iv[1], y0: 0, y1: 1,
    fillcolor: RED, line: {width: 0}, layer: 'below'}));
  // reference lines at 0 and 1
  const tEnd = p.b[0][p.b[0].length - 1];
  refLevels.forEach(lv => traces.push({x: [xRange[0], tEnd], y: [lv, lv], xaxis: xa, yaxis: ya, mode: 'lines',
    line: {color: '#000', width: 1.1}, hoverinfo: 'skip'}));
  // bands
  [p.u, p.l].forEach(s => traces.push({x: s[0], y: s[1], xaxis: xa, yaxis: ya, mode: 'lines',
    line: {color: GREY, width: 1.6, dash: '2px,2px'}, hoverinfo: 'skip'}));
  // estimate
  traces.push({x: p.b[0], y: p.b[1], xaxis: xa, yaxis: ya, mode: 'lines',
    line: {color: BLUE, width: 2.2}, hoverinfo: 'skip'});
  // title
  annotations.push({text: titles[i], xref: 'paper', yref: 'paper', x: titlePos[i][0] / W, y: 1 - titlePos[i][1] / H,
    xanchor: 'left', yanchor: 'middle', showarrow: false, font: {family: FONT, size: 27, color: '#111'}});
});
layout.shapes = shapes;
layout.annotations = annotations;

Plotly.newPlot('chart', traces, layout, {staticPlot: true, displayModeBar: false});
</script></body></html>
